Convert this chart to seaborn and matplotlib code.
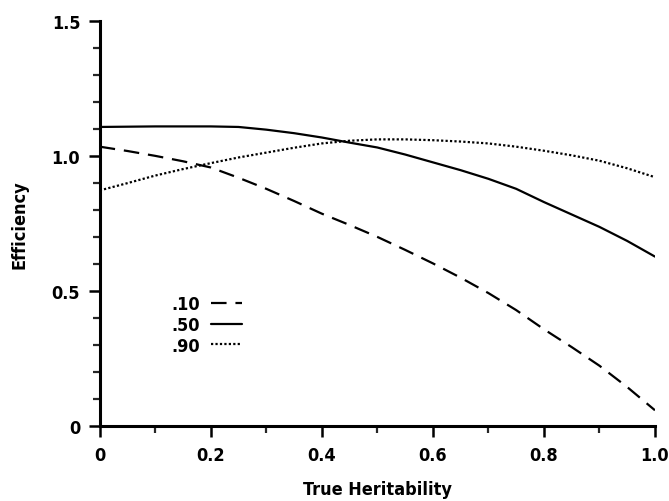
import matplotlib
matplotlib.use('Agg')
import matplotlib.pyplot as plt
from matplotlib.ticker import MultipleLocator, FixedLocator
import seaborn as sns
import pandas as pd

# values
heritability = [0.0, 0.05, 0.1, 0.15, 0.2, 0.25, 0.3, 0.35, 0.4, 0.45, 0.5,
                0.55, 0.6, 0.65, 0.7, 0.75, 0.8, 0.85, 0.9, 0.95, 1.0]
eff_10 = [1.035, 1.019, 1.001, 0.981, 0.958, 0.92, 0.879, 0.834, 0.787, 0.745, 0.701,
          0.653, 0.603, 0.55, 0.493, 0.43, 0.359, 0.293, 0.224, 0.145, 0.059]
eff_50 = [1.108, 1.109, 1.110, 1.110, 1.110, 1.108, 1.098, 1.085, 1.069, 1.05, 1.032,
          1.006, 0.977, 0.948, 0.916, 0.879, 0.83, 0.784, 0.738, 0.686, 0.628]
eff_90 = [0.873, 0.90, 0.928, 0.952, 0.974, 0.995, 1.013, 1.031, 1.047, 1.057, 1.062,
          1.062, 1.059, 1.054, 1.047, 1.035, 1.02, 1.003, 0.983, 0.955, 0.922]
series_labels = ['.10', '.50', '.90']
x_ticks = [0, 0.2, 0.4, 0.6, 0.8, 1.0]
x_tick_labels = ['0', '0.2', '0.4', '0.6', '0.8', '1.0']
y_ticks = [0, 0.5, 1.0, 1.5]
y_tick_labels = ['0', '0.5', '1.0', '1.5']

df = pd.DataFrame({
    'h': heritability * 3,
    'eff': eff_10 + eff_50 + eff_90,
    'prior': [series_labels[0]] * len(heritability)
             + [series_labels[1]] * len(heritability)
             + [series_labels[2]] * len(heritability),
})

sns.set_style('ticks')
plt.rcParams['font.family'] = ['DejaVu Sans']
plt.rcParams['font.stretch'] = 'condensed'
plt.rcParams['font.weight'] = 'bold'

fig = plt.figure(figsize=(6.69, 5.02), dpi=100)
ax = fig.add_axes([0.149, 0.149, 0.830, 0.807])

dash_styles = {'.10': (7, 4), '.50': '', '.90': (1, 1)}
sns.lineplot(data=df, x='h', y='eff', style='prior', dashes=dash_styles,
             color='black', linewidth=1.6, ax=ax, legend=False)

# legend handles
for lab in series_labels:
    ax.plot([], [], color='black', linewidth=1.6,
            dashes=dash_styles[lab] if dash_styles[lab] else (None, None),
            label=lab)
ax.legend(loc='center left', bbox_to_anchor=(0.10, 0.25), frameon=False,
          markerfirst=False, handlelength=1.7, handletextpad=0.6,
          labelspacing=0.15, fontsize=13, labelcolor='black')

ax.set_xlim(0, 1.0)
ax.set_ylim(0, 1.5)
ax.xaxis.set_major_locator(FixedLocator(x_ticks))
ax.set_xticklabels(x_tick_labels)
ax.xaxis.set_minor_locator(MultipleLocator(0.1))
ax.yaxis.set_major_locator(FixedLocator(y_ticks))
ax.set_yticklabels(y_tick_labels)
ax.yaxis.set_minor_locator(MultipleLocator(0.1))

ax.tick_params(which='major', direction='out', length=8, width=1.8,
               labelsize=13, colors='black', pad=6)
ax.tick_params(which='minor', direction='out', length=5, width=1.6)

for side in ['top', 'right']:
    ax.spines[side].set_visible(False)
for side in ['left', 'bottom']:
    ax.spines[side].set_linewidth(2.2)
    ax.spines[side].set_color('black')

ax.set_xlabel('True Heritability', fontsize=13, fontweight='bold',
              labelpad=12, color='black')
ax.set_ylabel('Efficiency', fontsize=13, fontweight='bold',
              labelpad=17, color='black')

fig.savefig('out.png', dpi=100)
